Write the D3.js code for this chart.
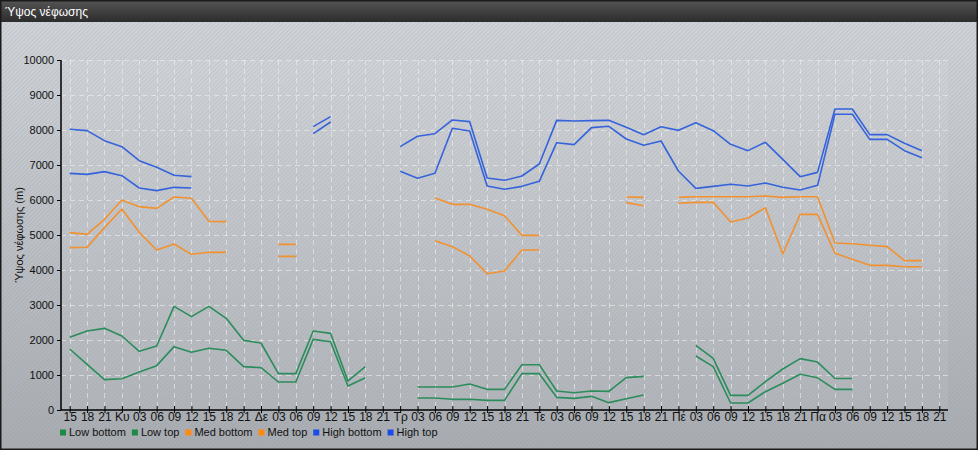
<!DOCTYPE html>
<html><head><meta charset="utf-8">
<script src="https://cdn.jsdelivr.net/npm/d3@7"></script>
<style>body{margin:0;background:#fff}svg{display:block;font-family:"Liberation Sans",Arial,sans-serif}</style>
</head><body><svg width="978" height="450"></svg>
<script>
const N = null;
const tickLabels = ["15","18","21","Κυ","03","06","09","12","15","18","21","Δε","03","06","09","12","15","18","21","Τρ","03","06","09","12","15","18","21","Τε","03","06","09","12","15","18","21","Πέ","03","06","09","12","15","18","21","Πα","03","06","09","12","15","18","21"];
const lowBottom = [1743,1305,867,895,1086,1267,1810,1648,1762,1705,1238,1210,800,800,2019,1952,686,924,N,N,343,343,305,305,276,276,1038,1038,362,333,390,210,324,429,N,N,1543,1238,200,200,524,762,1019,920,590,590,N,N,N,N,N];
const lowTop = [2076,2257,2333,2114,1676,1829,2962,2667,2962,2619,1990,1914,1040,1040,2257,2190,829,1238,N,N,657,657,657,743,590,590,1295,1295,543,495,543,533,924,962,N,N,1848,1476,419,419,810,1171,1467,1370,900,900,N,N,N,N,N];
const medBottom = [4638,4648,5210,5743,5076,4571,4743,4448,4505,4505,N,N,4390,4390,N,N,N,N,N,N,N,4838,4667,4400,3895,3971,4571,4571,N,N,N,N,5924,5838,N,5905,5933,5933,5371,5486,5781,4457,5590,5590,4476,4305,4133,4133,4095,4095,N];
const medTop = [5067,5019,5448,6000,5810,5762,6086,6048,5390,5381,N,N,4733,4733,N,N,N,N,N,N,N,6057,5876,5876,5733,5552,4990,4990,N,N,N,N,6086,6076,N,6076,6095,6095,6095,6095,6114,6076,6095,6095,4771,4752,4705,4667,4267,4267,N];
const highBottom = [6762,6733,6810,6695,6343,6267,6362,6343,N,N,N,N,N,N,7895,8229,N,N,N,6819,6619,6762,8048,7971,6400,6305,6390,6533,7638,7581,8067,8105,7743,7562,7686,6829,6333,6390,6448,6400,6486,6362,6286,6419,8448,8448,7733,7733,7410,7210,N];
const highTop = [8020,7981,7695,7524,7124,6933,6705,6667,N,N,N,N,N,N,8095,8381,N,N,N,7524,7820,7895,8286,8238,6629,6562,6686,7029,8276,8257,8267,8276,8076,7867,8095,7990,8209,7981,7590,7410,7648,7162,6667,6790,8600,8600,7867,7867,7619,7410,N];
const seriesNames = ["Low bottom","Low top","Med bottom","Med top","High bottom","High top"];
const seriesColors = ["#2b8c5c","#2b8c5c","#f29130","#f29130","#3563db","#3563db"];
const legendColors = ["#1b8a45","#1b8a45","#ff8a10","#ff8a10","#1a4de8","#1a4de8"];
const yTicks = d3.range(0, 10001, 1000);

const svg = d3.select("svg");
const W = 978, H = 450;
const defs = svg.append("defs");
const bg = defs.append("linearGradient").attr("id","bg").attr("x1",0).attr("y1",0).attr("x2",0).attr("y2",1);
bg.append("stop").attr("offset","0%").attr("stop-color","#d2d5d9");
bg.append("stop").attr("offset","100%").attr("stop-color","#a9acb0");
const tb = defs.append("linearGradient").attr("id","tb").attr("x1",0).attr("y1",0).attr("x2",0).attr("y2",1);
tb.append("stop").attr("offset","0%").attr("stop-color","#555");
tb.append("stop").attr("offset","100%").attr("stop-color","#2c2c2c");
const pat = defs.append("pattern").attr("id","hatch").attr("width",3).attr("height",3)
  .attr("patternUnits","userSpaceOnUse").attr("patternTransform","rotate(45)");
pat.append("rect").attr("width",1).attr("height",3).attr("fill","#7f90a8").attr("opacity",0.18);

svg.append("rect").attr("width",W).attr("height",H).attr("fill","url(#bg)");
svg.append("rect").attr("width",W).attr("height",H).attr("fill","url(#hatch)");
svg.append("rect").attr("width",W).attr("height",22).attr("fill","url(#tb)");
svg.append("text").attr("x",5).attr("y",16).attr("fill","#fff").attr("font-size",12).text("Ύψος νέφωσης");
svg.append("rect").attr("x",0.75).attr("y",0.75).attr("width",W-1.5).attr("height",H-1.5)
  .attr("fill","none").attr("stroke","#1a1a1a").attr("stroke-width",1.5);

const x = d3.scaleLinear().domain([-0.5, 50.5]).range([61, 948]);
const y = d3.scaleLinear().domain([0, 10000]).range([410, 60]);

svg.append("rect").attr("x",61).attr("y",60).attr("width",887).attr("height",350).attr("fill","#fff").attr("opacity",0.07);

const grid = svg.append("g").attr("stroke","#f4f4f4").attr("stroke-opacity",0.55).attr("stroke-dasharray","5,4").attr("stroke-width",1);
grid.selectAll(".h").data(yTicks.slice(1)).enter().append("line")
  .attr("x1",61).attr("x2",948).attr("y1",d=>Math.round(y(d))+0.5).attr("y2",d=>Math.round(y(d))+0.5);
grid.selectAll(".v").data(d3.range(tickLabels.length)).enter().append("line")
  .attr("y1",60).attr("y2",410).attr("x1",d=>Math.round(x(d))+0.5).attr("x2",d=>Math.round(x(d))+0.5);

const all = [lowBottom, lowTop, medBottom, medTop, highBottom, highTop];
const line = d3.line().defined(d=>d!==null).x((d,i)=>x(i)).y(d=>y(d));
all.forEach((s,k)=>{
  svg.append("path").datum(s).attr("d",line).attr("fill","none")
    .attr("stroke",seriesColors[k]).attr("stroke-width",1.6).attr("stroke-linejoin","round");
});

const ya = svg.append("g").attr("transform","translate(61,0)")
  .call(d3.axisLeft(y).tickValues(yTicks).tickSize(4).tickFormat(d3.format("d")));
ya.select(".domain").attr("stroke","#000").attr("stroke-width",1.5).attr("d","M0,60V410");
ya.selectAll("text").attr("font-size",11).attr("fill","#111").attr("font-family","Liberation Sans, Arial");
ya.selectAll("line").attr("stroke","#000");

const xa = svg.append("g").attr("transform","translate(0,410)")
  .call(d3.axisBottom(x).tickValues(d3.range(tickLabels.length)).tickSize(3).tickFormat(i=>tickLabels[i]));
xa.select(".domain").attr("stroke","#000").attr("stroke-width",1.5).attr("d","M61,0H948");
xa.selectAll(".tick line").attr("stroke","#000").attr("y1",-4).attr("y2",3);
xa.selectAll("text").attr("font-size",12).attr("fill","#111").attr("dy","0.55em").attr("y",4).attr("font-family","Liberation Sans, Arial");

svg.append("text").attr("transform","translate(23,235) rotate(-90)").attr("text-anchor","middle")
  .attr("font-size",11).attr("fill","#111").text("Ύψος νέφωσης (m)");

let lx = 60;
seriesNames.forEach((n,k)=>{
  const g = svg.append("g");
  g.append("rect").attr("x",lx).attr("y",429.5).attr("width",6).attr("height",6).attr("fill",legendColors[k]);
  const t = g.append("text").attr("x",lx+9).attr("y",436).attr("font-size",11).attr("fill","#111").text(n);
  lx += 9 + t.node().getComputedTextLength() + 6;
});
</script></body></html>
